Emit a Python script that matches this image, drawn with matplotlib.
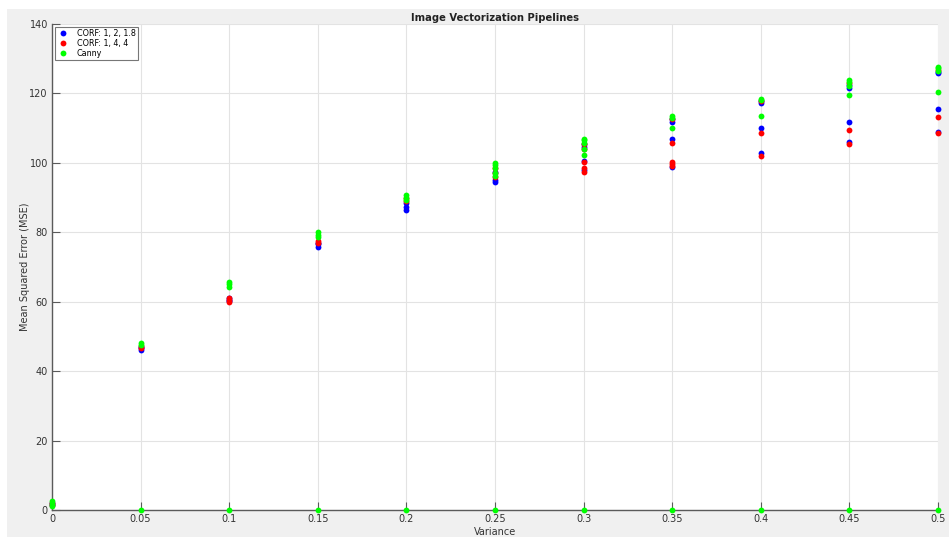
import numpy as np
import matplotlib
matplotlib.use('Agg')
from matplotlib import pyplot as plt
from matplotlib.patches import Rectangle

# Noise variance levels on the x axis
variance = [0, 0.05, 0.1, 0.15, 0.2, 0.25, 0.3, 0.35, 0.4, 0.45, 0.5]

# MSE values per variance level, one list per level
corf_a_mse = [
    [1.5, 2.0],
    [46.2, 46.6, 47.0],
    [60.2, 60.6, 61.0],
    [75.8, 76.5, 77.0],
    [86.5, 87.2, 88.5],
    [94.5, 95.2, 97.5],
    [98.0, 100.5, 104.5, 105.5],
    [98.9, 106.8, 111.9, 112.5],
    [102.8, 110.1, 117.3, 117.8],
    [105.9, 111.9, 121.6, 122.4],
    [109.0, 115.6, 125.9, 126.3],
]
corf_b_mse = [
    [1.5, 2.0],
    [46.8, 47.2],
    [60.0, 60.5, 61.2],
    [76.8, 77.5],
    [89.0, 89.8],
    [95.8, 97.0, 98.5],
    [97.5, 98.5, 100.3, 104.0, 105.5],
    [99.1, 99.6, 100.2, 105.8, 112.6],
    [102.0, 108.7, 117.9],
    [105.4, 109.4, 122.9],
    [108.5, 113.2, 126.8],
]
canny_mse = [
    [1.2, 1.8, 2.5],
    [0, 47.5, 48.0],
    [0, 64.3, 65.0, 65.8],
    [0, 78.5, 79.2, 80.0],
    [0, 89.2, 90.0, 90.8],
    [0, 96.2, 97.2, 98.5, 99.3, 100.0],
    [0, 102.3, 104.0, 105.8, 106.5, 107.0],
    [0, 109.9, 113.0, 113.5],
    [0, 113.6, 118.0, 118.5],
    [0, 119.5, 122.2, 123.2, 123.8],
    [0, 120.5, 126.5, 127.2, 127.6],
]

series_labels = ['CORF: 1, 2, 1.8', 'CORF: 1, 4, 4', 'Canny']
series_colors = ['#0000ff', '#ff0000', '#00ff00']


def flatten(groups):
    xs = np.concatenate([[v] * len(g) for v, g in zip(variance, groups)])
    ys = np.concatenate(groups)
    return xs, ys


fig = plt.figure(figsize=(9.49, 5.37), dpi=100, facecolor='white')
# grey window background, leaving a thin white strip top/left
fig.patches.append(Rectangle((7 / 949, 0), 1, 1 - 9 / 537, transform=fig.transFigure,
                             facecolor='#f0f0f0', edgecolor='none', zorder=-10))

ax = fig.add_axes([52 / 949, 27 / 537, (938 - 52) / 949, (510 - 24) / 537])
ax.set_facecolor('white')

for groups, label, color in zip([corf_a_mse, corf_b_mse, canny_mse], series_labels, series_colors):
    xs, ys = flatten(groups)
    ax.plot(xs, ys, 'o', color=color, markersize=4.2, markeredgewidth=0, label=label,
            clip_on=False, zorder=3)

ax.set_xlim(0, 0.5)
ax.set_ylim(0, 140)
ax.set_xticks(variance)
ax.set_xticklabels(['0', '0.05', '0.1', '0.15', '0.2', '0.25', '0.3', '0.35', '0.4', '0.45', '0.5'])
ax.set_yticks(np.arange(0, 141, 20))

ax.grid(True, color='#e3e3e3', linewidth=0.8)
ax.set_axisbelow(True)
for side in ['top', 'right']:
    ax.spines[side].set_visible(False)
for side in ['left', 'bottom']:
    ax.spines[side].set_color('#5a5a5a')
    ax.spines[side].set_linewidth(1.0)
ax.tick_params(direction='in', length=5.5, width=0.8, color='#5a5a5a',
               labelsize=7, labelcolor='#333333', pad=3)

ax.set_title('Image Vectorization Pipelines', fontsize=7.2, fontweight='bold', color='#222222', pad=2)
ax.set_xlabel('Variance', fontsize=7, color='#333333', labelpad=2)
ax.set_ylabel('Mean Squared Error (MSE)', fontsize=7, color='#333333')
ax.yaxis.set_label_coords(-0.0245, 0.5)

leg = ax.legend(loc='upper left', fontsize=5.8, frameon=True, fancybox=False, borderaxespad=0.35,
                handletextpad=0.9, borderpad=0.25, labelspacing=0.15, handlelength=1.6)
leg.get_frame().set_edgecolor('#555555')
leg.get_frame().set_linewidth(0.8)

fig.savefig('out.png', dpi=100, facecolor=fig.get_facecolor())
